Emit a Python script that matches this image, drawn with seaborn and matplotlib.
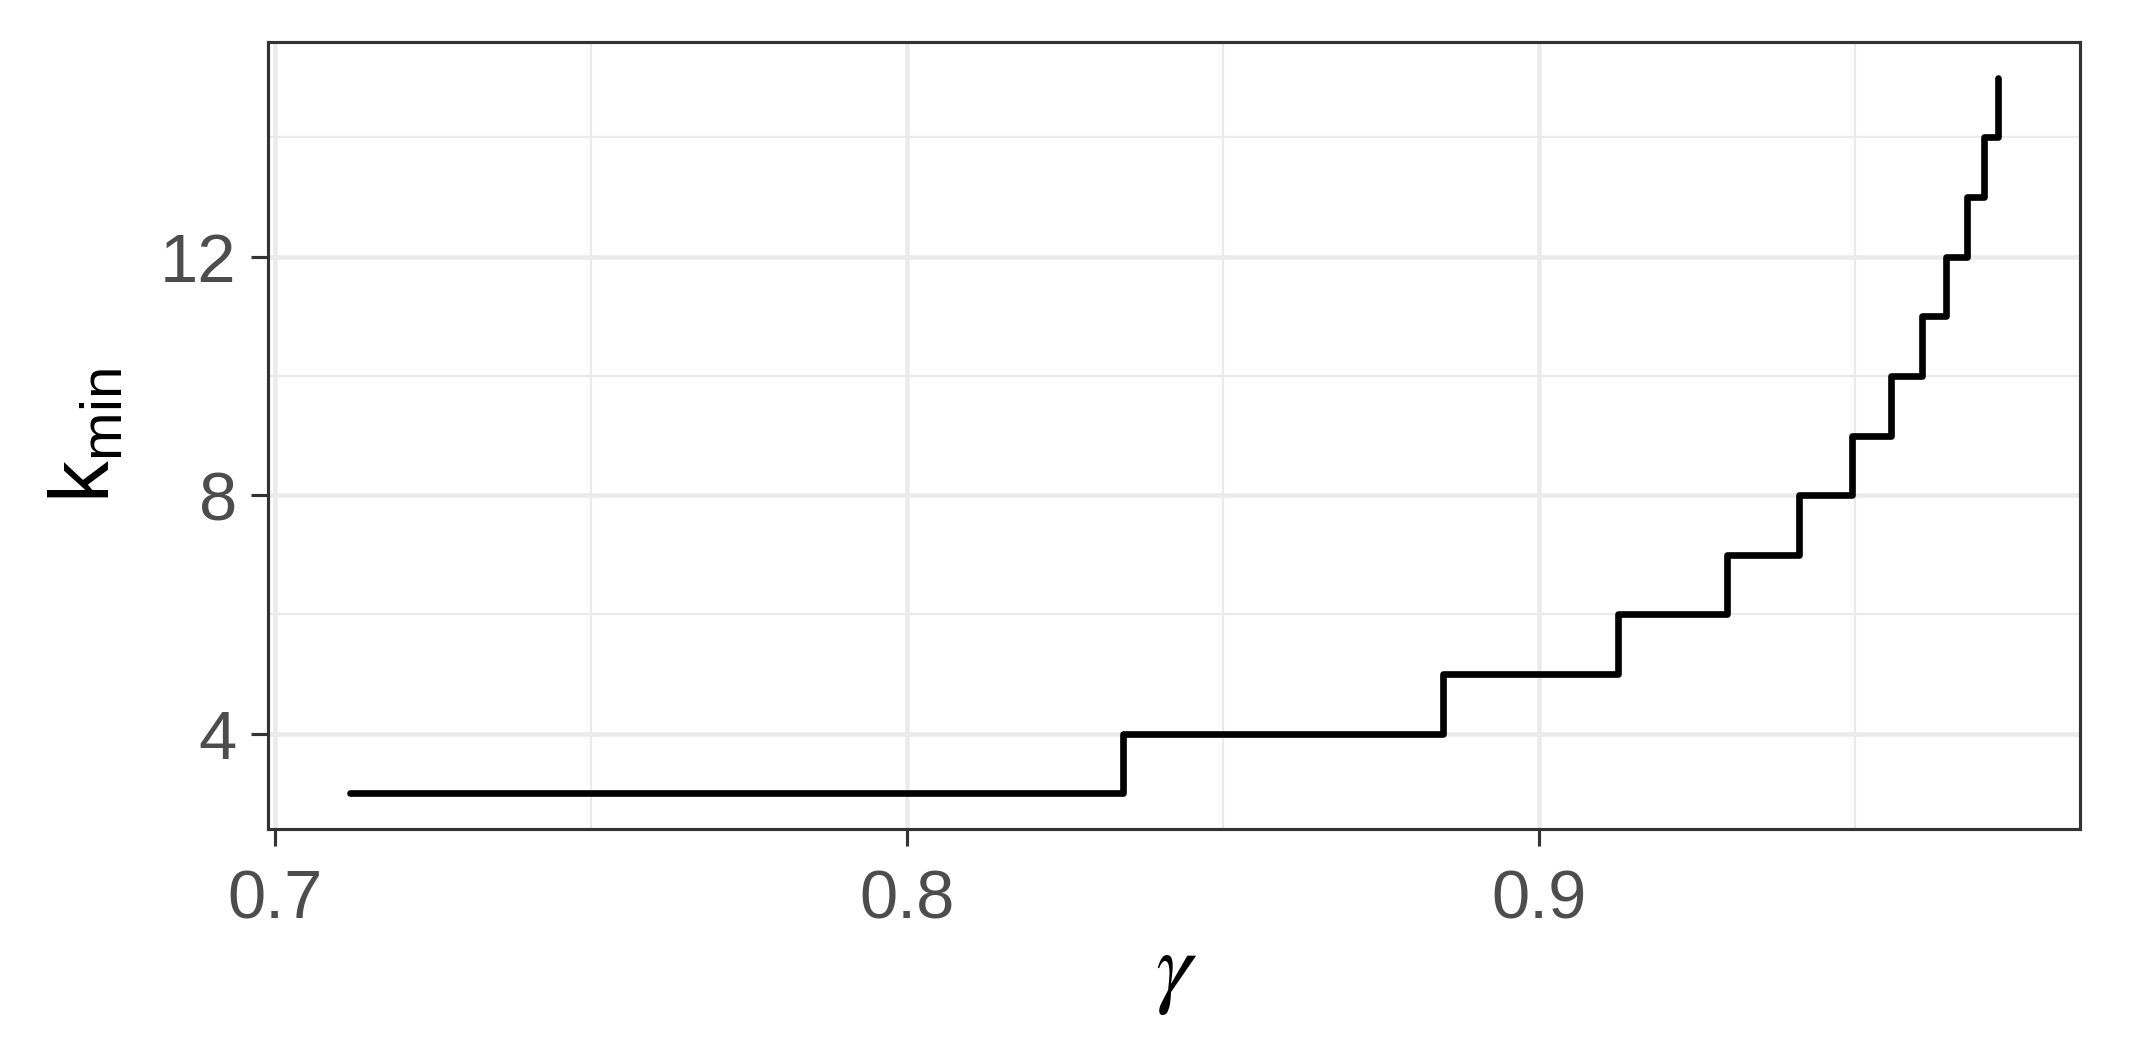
import matplotlib
matplotlib.use("Agg")
import matplotlib.pyplot as plt
import seaborn as sns
import pandas as pd
from matplotlib.ticker import MultipleLocator

# Data
gamma = [0.7119, 0.8341, 0.8848, 0.9125, 0.9297, 0.9411, 0.9495, 0.9557,
         0.9606, 0.9645, 0.9677, 0.9704, 0.9726]
k_min = [3, 4, 5, 6, 7, 8, 9, 10, 11, 12, 13, 14, 15]
x_ticks = [0.7, 0.8, 0.9]
y_ticks = [4, 8, 12]

df = pd.DataFrame({"gamma": gamma, "k_min": k_min})

sns.set_theme(style="white")
plt.rcParams["font.family"] = ["Liberation Sans", "DejaVu Sans"]
plt.rcParams["mathtext.default"] = "regular"

W, H, DPI = 2142, 1064, 300
fig, ax = plt.subplots(figsize=(W / DPI, H / DPI), dpi=DPI)
fig.subplots_adjust(left=268 / W, right=2080 / W, top=1 - 42 / H, bottom=1 - 829 / H)

sns.lineplot(data=df, x="gamma", y="k_min", ax=ax, color="black",
             linewidth=1.6, drawstyle="steps-post", sort=False,
             estimator=None, zorder=3)

xr = max(gamma) - min(gamma)
yr = max(k_min) - min(k_min)
ax.set_xlim(min(gamma) - 0.05 * xr, max(gamma) + 0.05 * xr)
ax.set_ylim(min(k_min) - 0.05 * yr, max(k_min) + 0.05 * yr)

ax.set_xticks(x_ticks)
ax.set_xticklabels([f"{v:.1f}" for v in x_ticks])
ax.set_yticks(y_ticks)
ax.set_yticklabels([str(v) for v in y_ticks])
ax.xaxis.set_minor_locator(MultipleLocator(0.05))
ax.yaxis.set_minor_locator(MultipleLocator(2))

ax.grid(which="major", color="#EBEBEB", linewidth=1.1, zorder=0)
ax.grid(which="minor", color="#EBEBEB", linewidth=0.55, zorder=0)
ax.set_axisbelow(True)

for s in ax.spines.values():
    s.set_color("#333333")
    s.set_linewidth(0.75)
    s.set_visible(True)

ax.tick_params(axis="both", which="major", length=4, width=0.75,
               color="#333333", labelcolor="#4D4D4D", labelsize=16.5,
               bottom=True, left=True)
ax.tick_params(axis="x", which="major", pad=5.5)
ax.tick_params(axis="y", which="major", pad=3.5)
ax.tick_params(axis="both", which="minor", length=0)

ax.set_xlabel("γ", family=["STIXGeneral", "Liberation Serif"], style="italic",
              fontsize=22, color="black", labelpad=0)
ax.set_ylabel("$k_{min}$", fontsize=20, color="black", labelpad=8)

fig.savefig("out.png", dpi=DPI, facecolor="white")
